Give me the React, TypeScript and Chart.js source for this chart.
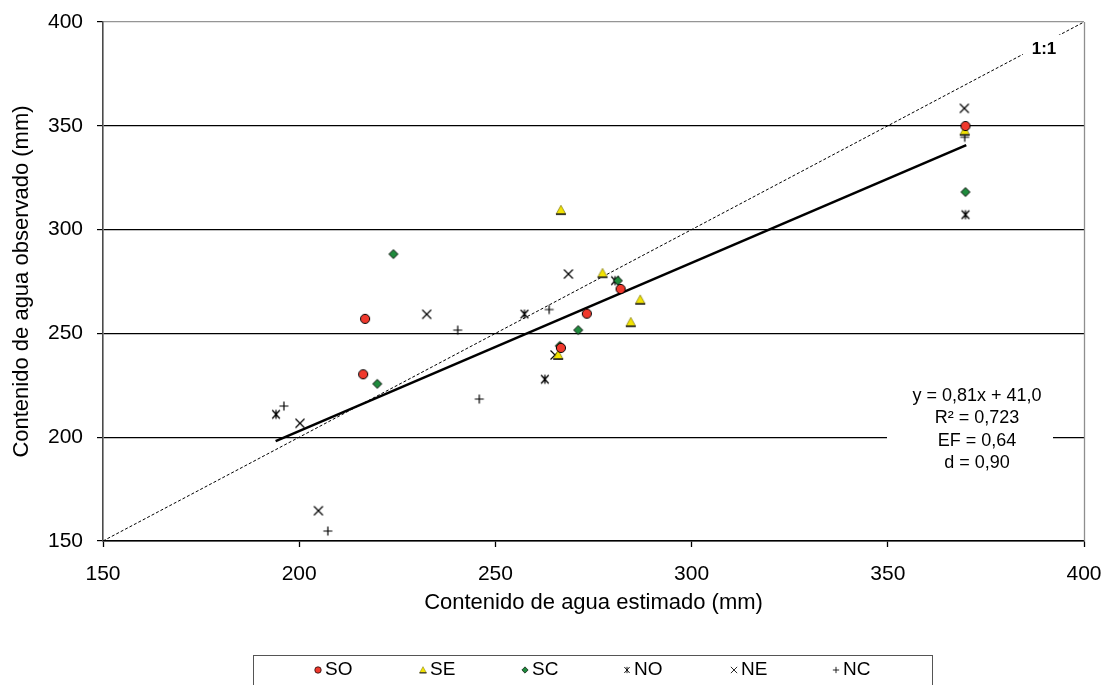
import React, { useEffect, useRef } from 'react';
import { Chart, registerables } from 'chart.js';

Chart.register(...registerables);

const FONT = '"Liberation Sans", Arial, Helvetica, sans-serif';

// ---- data ----
const seriesNames = ['SO', 'SE', 'SC', 'NO', 'NE', 'NC'];

const soX = [216.3, 216.8, 266.7, 273.3, 281.9, 369.8];
const soY = [230.3, 257.0, 243.0, 259.5, 271.4, 349.9];

const seX = [266.7, 277.3, 286.9, 284.5, 266.0, 369.6];
const seY = [309.4, 279.0, 266.2, 255.4, 239.6, 347.6];

const scX = [219.9, 224.0, 281.2, 271.1, 266.4, 369.8];
const scY = [225.7, 288.2, 275.4, 251.6, 244.0, 318.1];

const noX = [194.1, 257.4, 262.6, 280.5, 369.8];
const noY = [211.0, 259.3, 227.9, 275.4, 307.2];

const neX = [200.2, 204.9, 232.5, 268.6, 265.2, 369.5];
const neY = [206.7, 164.6, 259.2, 278.6, 239.6, 358.4];

const ncX = [196.1, 207.3, 240.4, 245.9, 263.7, 369.6];
const ncY = [215.0, 154.8, 251.6, 218.4, 261.5, 344.5];

// regression (trend) line end points and 1:1 line
const trendX = [194, 370];
const trendY = [198.1, 340.7];
const oneToOneX = [150, 400];
const oneToOneY = [150, 400];

const axisMin = 150;
const axisMax = 400;
const axisStep = 50;

const eqLines = ['y = 0,81x + 41,0', 'R\u00B2 = 0,723', 'EF = 0,64', 'd = 0,90'];
const xTitle = 'Contenido de agua estimado (mm)';
const yTitle = 'Contenido de agua observado (mm)';
const oneToOneLabel = '1:1';

const pts = (xs: number[], ys: number[]) => xs.map((x, i) => ({ x, y: ys[i] }));

function drawMarker(ctx: CanvasRenderingContext2D, kind: string, x: number, y: number, s: number) {
  ctx.save();
  ctx.translate(x, y);
  ctx.scale(s, s);
  ctx.lineJoin = 'miter';
  switch (kind) {
    case 'SO':
      ctx.beginPath();
      ctx.arc(0, 0, 4.6, 0, Math.PI * 2);
      ctx.fillStyle = '#f0392d';
      ctx.fill();
      ctx.lineWidth = 1;
      ctx.strokeStyle = '#000';
      ctx.stroke();
      break;
    case 'SE':
      ctx.beginPath();
      ctx.moveTo(0, -4.8);
      ctx.lineTo(4.8, 3.9);
      ctx.lineTo(-4.8, 3.9);
      ctx.closePath();
      ctx.fillStyle = '#f2e300';
      ctx.fill();
      ctx.lineWidth = 0.7;
      ctx.strokeStyle = '#7a7300';
      ctx.stroke();
      ctx.beginPath();
      ctx.moveTo(-5, 4.1);
      ctx.lineTo(5, 4.1);
      ctx.lineWidth = 1.6;
      ctx.strokeStyle = '#222';
      ctx.stroke();
      break;
    case 'SC':
      ctx.beginPath();
      ctx.moveTo(-4.5, 0);
      ctx.lineTo(0, -4.5);
      ctx.lineTo(4.5, 0);
      ctx.lineTo(0, 4.5);
      ctx.closePath();
      ctx.fillStyle = '#1e8a3c';
      ctx.fill();
      ctx.lineWidth = 0.9;
      ctx.strokeStyle = '#000';
      ctx.stroke();
      break;
    case 'NO':
      ctx.beginPath();
      ctx.moveTo(-3.8, -4.3);
      ctx.lineTo(3.8, 4.3);
      ctx.moveTo(-3.8, 4.3);
      ctx.lineTo(3.8, -4.3);
      ctx.moveTo(0, -4.5);
      ctx.lineTo(0, 4.5);
      ctx.lineWidth = 1.3;
      ctx.strokeStyle = '#000';
      ctx.stroke();
      break;
    case 'NE':
      ctx.beginPath();
      ctx.moveTo(-4.5, -4.5);
      ctx.lineTo(4.5, 4.5);
      ctx.moveTo(-4.5, 4.5);
      ctx.lineTo(4.5, -4.5);
      ctx.lineWidth = 1.2;
      ctx.strokeStyle = '#000';
      ctx.stroke();
      break;
    case 'NC':
      ctx.beginPath();
      ctx.moveTo(-4.5, 0);
      ctx.lineTo(4.5, 0);
      ctx.moveTo(0, -4.5);
      ctx.lineTo(0, 4.5);
      ctx.lineWidth = 1.2;
      ctx.strokeStyle = '#000';
      ctx.stroke();
      break;
  }
  ctx.restore();
}

function markerCanvas(kind: string) {
  const c = document.createElement('canvas');
  c.width = 16;
  c.height = 16;
  const ctx = c.getContext('2d')!;
  drawMarker(ctx, kind, 8, 8, 1);
  return c;
}

const overlayPlugin = {
  id: 'overlayPlugin',
  afterDraw(chart: any) {
    const { ctx, chartArea: a } = chart;
    ctx.save();

    // right frame line
    ctx.beginPath();
    ctx.moveTo(a.right + 0.5, a.top);
    ctx.lineTo(a.right + 0.5, a.bottom);
    ctx.strokeStyle = '#8e8e8e';
    ctx.lineWidth = 1.3;
    ctx.stroke();

    // equation box
    ctx.fillStyle = '#fff';
    ctx.fillRect(a.right - 197, a.top + 358, 166, 96);
    ctx.fillStyle = '#000';
    ctx.font = `18px ${FONT}`;
    ctx.textAlign = 'center';
    ctx.textBaseline = 'middle';
    eqLines.forEach((t, i) => {
      ctx.fillText(t, a.right - 107, a.top + 374 + i * 22.3);
    });

    // 1:1 label
    ctx.fillStyle = '#fff';
    ctx.fillRect(a.right - 61, a.top + 13, 39, 26);
    ctx.fillStyle = '#000';
    ctx.font = `bold 17px ${FONT}`;
    ctx.fillText(oneToOneLabel, a.right - 40, a.top + 27);

    // axis titles
    ctx.font = `22px ${FONT}`;
    ctx.fillText(xTitle, (a.left + a.right) / 2, 603);
    ctx.save();
    ctx.translate(22, (a.top + a.bottom) / 2);
    ctx.rotate(-Math.PI / 2);
    ctx.fillText(yTitle, 0, 0);
    ctx.restore();

    // legend box
    ctx.strokeStyle = '#555';
    ctx.lineWidth = 1;
    ctx.strokeRect(253.5, 655.5, 679, 40);
    ctx.font = `19px ${FONT}`;
    ctx.textAlign = 'left';
    const legendX = [318, 423, 525, 627, 734, 836];
    seriesNames.forEach((n, i) => {
      drawMarker(ctx, n, legendX[i], 670, 0.7);
      ctx.fillStyle = '#000';
      ctx.fillText(n, legendX[i] + 7, 670);
    });

    ctx.restore();
  },
};

export default function App() {
  const ref = useRef<HTMLCanvasElement>(null);

  useEffect(() => {
    const canvas = ref.current!;
    const styles: Record<string, HTMLCanvasElement> = {};
    seriesNames.forEach((n) => (styles[n] = markerCanvas(n)));

    const scatterSet = (label: string, xs: number[], ys: number[]) => ({
      label,
      data: pts(xs, ys),
      pointStyle: styles[label] as any,
      pointRadius: 5,
      showLine: false,
      order: 0,
    });

    const zeroPad = (s: any) => {
      s.paddingLeft = 0;
      s.paddingRight = 0;
      s.paddingTop = 0;
      s.paddingBottom = 0;
    };

    const chart = new Chart(canvas, {
      type: 'scatter',
      data: {
        datasets: [
          scatterSet('SO', soX, soY),
          scatterSet('SE', seX, seY),
          scatterSet('SC', scX, scY),
          scatterSet('NO', noX, noY),
          scatterSet('NE', neX, neY),
          scatterSet('NC', ncX, ncY),
          {
            label: 'trend',
            data: pts(trendX, trendY),
            showLine: true,
            borderColor: '#000',
            borderWidth: 2.6,
            pointRadius: 0,
            order: 2,
          } as any,
          {
            label: '1:1',
            data: pts(oneToOneX, oneToOneY),
            showLine: true,
            borderColor: '#000',
            borderWidth: 1,
            borderDash: [3, 2],
            pointRadius: 0,
            order: 3,
          } as any,
        ],
      },
      options: {
        animation: false,
        responsive: false,
        devicePixelRatio: 1,
        events: [],
        layout: { padding: { left: 0, right: 20, top: 22, bottom: 0 } },
        plugins: {
          legend: { display: false },
          tooltip: { enabled: false },
        },
        scales: {
          x: {
            type: 'linear',
            min: axisMin,
            max: axisMax,
            ticks: {
              stepSize: axisStep,
              padding: 15,
              color: '#000',
              font: { family: FONT, size: 21 },
            },
            grid: {
              drawOnChartArea: false,
              drawTicks: true,
              tickLength: 6,
              tickColor: '#000',
              tickWidth: 1.3,
            },
            border: { display: true, color: '#000', width: 1.6 },
            afterFit: (s: any) => {
              s.height = 144;
              zeroPad(s);
            },
          },
          y: {
            type: 'linear',
            min: axisMin,
            max: axisMax,
            ticks: {
              stepSize: axisStep,
              padding: 14,
              color: '#000',
              font: { family: FONT, size: 21 },
            },
            grid: {
              color: (c: any) => (c.tick && c.tick.value === axisMax ? '#959595' : '#000'),
              lineWidth: 1.2,
              drawTicks: true,
              tickLength: 6,
              tickColor: '#000',
              tickWidth: 1.2,
            },
            border: { display: true, color: '#4a4a4a', width: 1.6 },
            afterFit: (s: any) => {
              s.width = 103;
              zeroPad(s);
            },
          },
        },
      },
      plugins: [overlayPlugin],
    });

    return () => chart.destroy();
  }, []);

  return (
    <div style={{ position: 'absolute', left: 0, top: 0, width: 1104, height: 685, background: '#fff', overflow: 'hidden' }}>
      <canvas ref={ref} width={1104} height={685} style={{ display: 'block', width: 1104, height: 685 }} />
    </div>
  );
}
